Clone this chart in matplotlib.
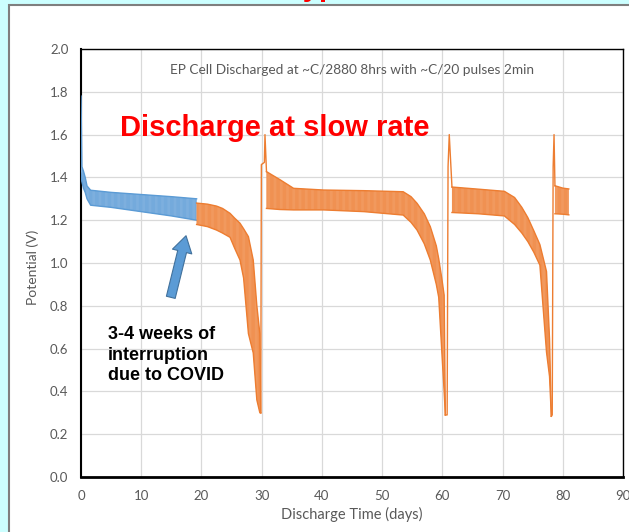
import matplotlib
matplotlib.use("Agg")
import matplotlib.pyplot as plt
from matplotlib.patches import Rectangle, FancyArrowPatch

BLUE = "#5B9BD5"
ORANGE = "#ED7D31"
GREY = "#595959"
plt.rcParams["hatch.linewidth"] = 0.5

# blue part: before the break (days, upper / lower edge of the pulse band, V)
blue_x = [0.0, 0.15, 0.4, 0.7, 1.0, 1.6, 5.0, 10.0, 15.0, 19.2]
blue_hi = [1.78, 1.45, 1.43, 1.40, 1.36, 1.34, 1.33, 1.32, 1.31, 1.30]
blue_lo = [1.42, 1.38, 1.35, 1.33, 1.30, 1.27, 1.26, 1.24, 1.22, 1.20]

# orange part, one list per discharge
o1_x = [19.2, 21.0, 22.5, 23.5, 24.75, 25.5, 26.4, 27.0, 27.8, 28.6, 29.2, 29.7, 29.85]
o1_hi = [1.28, 1.275, 1.266, 1.255, 1.232, 1.21, 1.186, 1.16, 1.123, 1.014, 0.80, 0.67, 0.30]
o1_lo = [1.18, 1.17, 1.154, 1.14, 1.12, 1.07, 1.014, 0.93, 0.67, 0.58, 0.36, 0.30, 0.30]

o2_x = [30.8, 33.0, 35.3, 40.3, 47.0, 53.5, 54.8, 55.8, 57.0, 58.0, 59.0, 59.4, 59.9, 60.3, 60.5]
o2_hi = [1.427, 1.39, 1.349, 1.341, 1.338, 1.333, 1.31, 1.279, 1.23, 1.17, 1.08, 1.02, 0.93, 0.85, 0.29]
o2_lo = [1.255, 1.25, 1.248, 1.248, 1.24, 1.224, 1.19, 1.154, 1.09, 1.014, 0.90, 0.84, 0.593, 0.40, 0.29]

o3_x = [61.6, 66.0, 70.3, 72.0, 73.2, 74.2, 75.2, 76.2, 77.3, 77.8, 78.1]
o3_hi = [1.355, 1.345, 1.335, 1.306, 1.26, 1.212, 1.15, 1.086, 0.96, 0.645, 0.284]
o3_lo = [1.236, 1.23, 1.22, 1.18, 1.14, 1.10, 1.05, 0.99, 0.583, 0.47, 0.284]

o4_x = [78.7, 80.0, 81.0]
o4_hi = [1.361, 1.35, 1.346]
o4_lo = [1.23, 1.228, 1.225]

# recharge spikes between discharges
r1_x = [29.85, 29.95, 30.45, 30.55, 30.8]
r1_y = [0.30, 1.46, 1.47, 1.60, 1.427]
r2_x = [60.5, 60.8, 60.95, 61.15, 61.6]
r2_y = [0.29, 0.29, 1.45, 1.60, 1.355]
r3_x = [78.1, 78.25, 78.4, 78.55, 78.7]
r3_y = [0.284, 0.29, 1.45, 1.60, 1.361]

x_ticks = [0, 10, 20, 30, 40, 50, 60, 70, 80, 90]
y_ticks = [0.0, 0.2, 0.4, 0.6, 0.8, 1.0, 1.2, 1.4, 1.6, 1.8, 2.0]

fig = plt.figure(figsize=(6.29, 5.32), dpi=100, facecolor="#CCFFFF")
fig.patches.append(Rectangle((9 / 629, -0.05), 1.0, 1.05 - 5 / 532,
                             transform=fig.transFigure, facecolor="white",
                             edgecolor="#7F7F7F", lw=1.5, zorder=-10))
fig.text(288 / 629, 1 + 4 / 532, "Typical", color="red", fontsize=21,
         weight="bold", family="Liberation Sans", va="baseline")

ax = fig.add_axes([81 / 629, 1 - 477 / 532, 542 / 629, 428 / 532])
ax.set_facecolor("white")

def band(x, hi, lo, c, light):
    ax.fill_between(x, lo, hi, facecolor=c, edgecolor=light, hatch="|" * 14,
                    lw=0, zorder=3)
    ax.plot(x, hi, color=c, lw=1, zorder=3)
    ax.plot(x, lo, color=c, lw=1, zorder=3)

band(blue_x, blue_hi, blue_lo, BLUE, "#8DB9E3")
for x, hi, lo in [(o1_x, o1_hi, o1_lo), (o2_x, o2_hi, o2_lo),
                  (o3_x, o3_hi, o3_lo), (o4_x, o4_hi, o4_lo)]:
    band(x, hi, lo, ORANGE, "#F4A673")
for x, y in [(r1_x, r1_y), (r2_x, r2_y), (r3_x, r3_y)]:
    ax.plot(x, y, color=ORANGE, lw=1, zorder=3)

ax.set_xlim(0, 90)
ax.set_ylim(0, 2.0)
ax.set_xticks(x_ticks)
ax.set_yticks(y_ticks)
ax.set_yticklabels([f"{v:.1f}" for v in y_ticks])
ax.grid(True, color="#D9D9D9", lw=0.9, zorder=0)
ax.set_axisbelow(True)
ax.tick_params(length=0, colors=GREY, labelsize=9.5, pad=9)
for lab in ax.get_xticklabels() + ax.get_yticklabels():
    lab.set_family("Lato")
for s in ax.spines.values():
    s.set_color("black")
    s.set_linewidth(1.0)
ax.spines["left"].set_linewidth(1.5)
ax.spines["bottom"].set_linewidth(2.0)

ax.set_xlabel("Discharge Time (days)", family="Lato", fontsize=10.5,
              color=GREY, labelpad=4)
ax.set_ylabel("Potential (V)", family="Lato", fontsize=10, color=GREY)
ax.yaxis.set_label_coords(-0.077, 0.49)

ax.text(14.8, 1.90, "EP Cell Discharged at ~C/2880 8hrs with ~C/20 pulses 2min",
        family="Lato", fontsize=9.8, color=GREY, va="center")
ax.text(6.5, 1.63, "Discharge at slow rate", color="red", fontsize=21,
        weight="bold", family="Liberation Sans", va="center")
ax.text(4.5, 0.57, "3-4 weeks of\ninterruption\ndue to COVID",
        family=["Liberation Sans Narrow", "Liberation Sans"], weight="bold",
        fontsize=13, va="center", ha="left", linespacing=1.3)
ax.add_patch(FancyArrowPatch((14.8, 0.827), (17.55, 1.14),
                             arrowstyle="simple,head_width=1.1,head_length=0.9,tail_width=0.5",
                             mutation_scale=13, facecolor=BLUE,
                             edgecolor="#41719C", lw=0.8, zorder=4))

fig.savefig("out.png", dpi=100, facecolor=fig.get_facecolor())
